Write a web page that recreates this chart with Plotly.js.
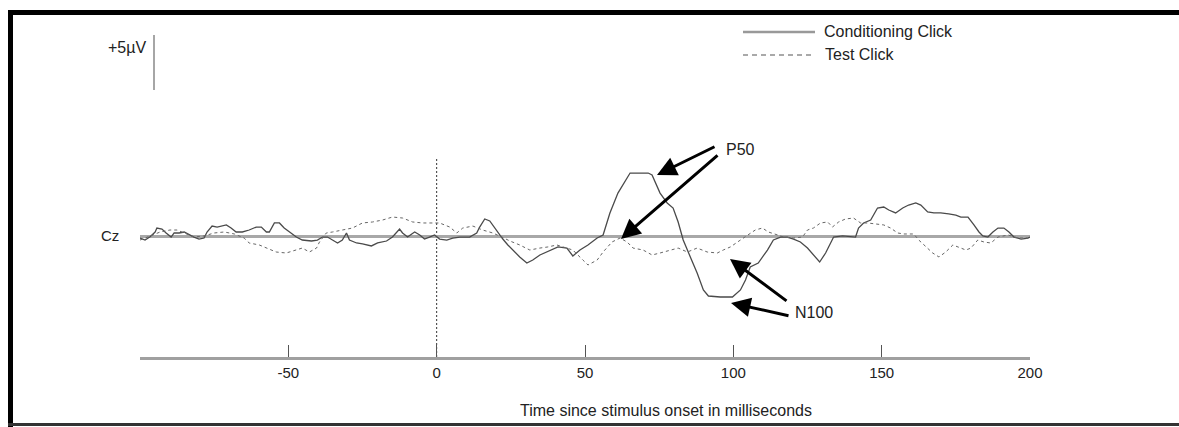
<!DOCTYPE html>
<html>
<head>
<meta charset="utf-8">
<script src="https://cdn.plot.ly/plotly-3.0.1.min.js"></script>
<style>
  html, body { margin: 0; padding: 0; background: #fff; }
  #chart { width: 1179px; height: 427px; }
</style>
</head>
<body>
<div id="chart"></div>
<script>
// Time (ms) and amplitude (µV)
const condTime = [-100,-98.3,-96.6,-94.9,-94.3,-92.6,-91.2,-89.5,-88.5,-86.8,-85.1,-83.4,-81.8,-80.1,-78.4,-77.4,-75.7,-74.0,-70.9,-69.3,-67.6,-65.5,-63.2,-60.8,-59.1,-57.4,-56.4,-54.7,-53.0,-51.4,-49.7,-47.3,-45.3,-42.2,-40.2,-38.5,-36.8,-35.1,-33.4,-31.8,-30.4,-29.4,-27.0,-25.0,-22.0,-19.9,-16.9,-14.9,-13.5,-12.5,-11.5,-9.8,-8.4,-7.4,-5.7,-4.1,-2.4,-0.7,1.0,3.4,5.4,7.8,11.1,13.5,14.5,16.2,17.9,19.6,21.3,22.3,24.0,25.7,28.0,30.4,32.4,34.8,37.2,39.2,40.9,43.9,45.9,48.3,51.0,54.1,56.1,58.4,61.1,65.2,68.6,71.3,72.6,75.3,77.7,79.7,81.4,83.1,85.5,87.8,89.9,91.6,95.6,99.7,102.4,104.1,105.7,108.4,111.5,113.5,115.9,118.2,120.3,122.6,125.0,127.0,129.1,131.1,132.8,133.8,136.8,139.5,141.2,142.2,143.9,146.3,148.6,150.7,152.4,154.7,157.1,159.1,161.5,163.2,165.5,167.6,169.9,172.6,175.0,176.7,179.1,181.1,182.8,184.1,185.8,187.5,189.2,191.2,192.9,194.6,197.0,199.3,200];
const condValue = [-0.14,-0.32,-0.02,0.41,0.77,0.68,0.32,-0.05,0.32,0.32,0.41,0.14,-0.05,-0.23,-0.14,0.41,0.95,0.86,1.05,0.77,0.41,0.41,0.59,0.86,0.86,0.41,0.41,1.23,1.23,0.77,0.41,-0.05,-0.32,-0.41,-0.32,-0.05,-0.05,-0.32,-0.59,-0.32,0.32,-0.32,-0.59,-0.68,-0.86,-0.59,-0.41,-0.05,0.41,0.68,0.32,-0.05,0.23,0.41,0.14,-0.23,-0.05,0.14,-0.23,-0.32,-0.14,-0.05,-0.05,0.32,0.86,1.59,1.41,0.77,0.14,-0.23,-0.77,-1.23,-1.86,-2.41,-2.14,-1.68,-1.41,-1.14,-0.95,-1.05,-1.77,-1.23,-0.77,-0.14,0.14,2.14,3.95,5.77,5.77,5.77,5.59,3.95,3.05,2.59,1.32,-0.32,-1.86,-3.32,-4.86,-5.41,-5.5,-5.5,-4.86,-3.95,-2.77,-2.41,-1.23,-0.32,-0.05,-0.05,-0.23,-0.5,-1.05,-1.68,-2.32,-1.5,-0.59,-0.05,0.05,-0.05,-0.05,0.77,1.23,1.5,2.59,2.68,2.41,2.14,2.59,2.86,3.05,2.86,2.23,2.14,2.14,2.05,1.95,1.77,1.77,1.05,0.41,0.05,-0.05,0.41,0.77,0.77,0.41,-0.05,-0.23,-0.14,-0.05];

const testTime = [-100,-96.6,-93.2,-89.9,-87.5,-85.1,-81.8,-78.4,-75.0,-71.6,-68.2,-64.9,-63.2,-59.8,-57.4,-54.1,-50.7,-47.3,-45.3,-42.9,-40.5,-39.5,-37.2,-35.1,-31.8,-28.4,-25.0,-21.6,-18.2,-14.9,-11.5,-8.1,-4.7,-1.4,1.0,4.4,6.8,8.8,12.2,15.5,18.9,22.0,24.7,28.0,31.4,34.8,37.5,40.5,42.6,45.9,49.3,51.0,54.1,56.1,59.1,61.8,64.2,66.2,69.6,72.6,75.3,78.7,81.4,84.5,87.8,91.2,94.6,96.6,99.0,102.4,105.1,107.4,109.8,111.8,114.9,116.9,120.3,123.3,125.0,127.0,129.4,131.8,133.4,135.5,137.8,140.5,142.9,145.3,148.0,150.7,153.0,155.4,157.4,160.8,162.5,164.9,167.2,169.3,171.6,174.0,176.0,178.4,180.1,182.4,184.5,186.8,189.2,192.6,195.9,199.3];
const testValue = [-0.32,0.05,0.41,0.59,0.59,0.32,-0.05,0.05,0.32,0.41,0.23,-0.14,-0.59,-0.77,-1.05,-1.41,-1.5,-1.23,-1.05,-1.41,-1.05,-0.5,0.32,0.41,0.59,0.77,1.23,1.32,1.5,1.77,1.68,1.32,1.23,1.23,1.23,0.86,0.32,0.77,0.95,0.59,0.32,-0.05,-0.41,-0.77,-1.23,-1.05,-0.95,-0.77,-0.95,-1.23,-2.14,-2.59,-2.14,-1.41,-0.5,-0.14,-0.5,-1.05,-1.23,-1.68,-1.5,-1.23,-1.05,-1.41,-1.05,-1.41,-1.5,-1.23,-0.95,-0.32,0.14,0.59,0.77,0.41,0.14,-0.05,-0.14,-0.05,0.59,0.77,1.23,1.32,0.86,1.32,1.59,1.68,1.23,1.23,1.14,1.05,0.77,0.32,0.23,0.23,-0.32,-0.95,-1.5,-1.86,-1.41,-0.77,-0.95,-1.23,-1.05,-0.32,-0.5,-0.59,-0.05,0.14,-0.14,-0.14];

const seriesNames = ["Conditioning Click", "Test Click"];
const tickValues = [-50, 0, 50, 100, 150, 200];
const tickLabels = ["-50", "0", "50", "100", "150", "200"];
const xTitle = "Time since stimulus onset in milliseconds";
const scaleLabel = "+5µV";
const channelLabel = "Cz";
const peakLabels = ["P50", "N100"];

const FONT = "'Liberation Sans Narrow', 'Arial Narrow', 'Liberation Sans', sans-serif";
const TXT = "#222";

const traces = [
  { x: condTime, y: condValue, type: "scatter", mode: "lines", name: seriesNames[0],
    line: { color: "#4a4a4a", width: 1.3 }, showlegend: false, hoverinfo: "skip" },
  { x: testTime, y: testValue, type: "scatter", mode: "lines", name: seriesNames[1],
    line: { color: "#666", width: 1, dash: "3px,3px" }, showlegend: false, hoverinfo: "skip" }
];

// paper coordinate helpers (plot area: x 140..1030 px, y 20..357 px)
const L = 140, R = 1030, T = 20, B = 357;
const px = v => (v - L) / (R - L);
const py = v => (B - v) / (B - T);

const shapes = [
  // baseline
  { type: "line", xref: "x", yref: "y", x0: -100, x1: 200, y0: 0, y1: 0,
    line: { color: "#a8a8a8", width: 3 }, layer: "below" },
  // stimulus onset dashed line
  { type: "line", xref: "x", yref: "paper", x0: 0, x1: 0, y0: 0, y1: py(157),
    line: { color: "#333", width: 1, dash: "2px,2px" }, layer: "below" },
  // scale bar
  { type: "line", xref: "paper", yref: "paper", x0: px(154), x1: px(154), y0: py(35), y1: py(90),
    line: { color: "#888", width: 1.5 } },
  // legend samples
  { type: "line", xref: "paper", yref: "paper", x0: px(743), x1: px(815), y0: py(32), y1: py(32),
    line: { color: "#999", width: 2.5 } },
  { type: "line", xref: "paper", yref: "paper", x0: px(743), x1: px(813), y0: py(55), y1: py(55),
    line: { color: "#555", width: 1.2, dash: "5px,4px" } },
  // frame
  { type: "line", xref: "paper", yref: "paper", x0: px(10.5), x1: px(10.5), y0: py(10), y1: py(427),
    line: { color: "#000", width: 5 } },
  { type: "line", xref: "paper", yref: "paper", x0: px(8), x1: px(1179), y0: py(12.5), y1: py(12.5),
    line: { color: "#000", width: 5 } },
  { type: "line", xref: "paper", yref: "paper", x0: px(8), x1: px(1179), y0: py(424.5), y1: py(424.5),
    line: { color: "#333", width: 3 } }
];

const txt = (text, x, y, size, anchor) => ({
  text, xref: "paper", yref: "paper", x: px(x), y: py(y), showarrow: false,
  xanchor: anchor || "left", yanchor: "middle", font: { family: FONT, size, color: TXT }
});
const arrow = (xh, yh, xt, yt) => ({
  text: "", xref: "paper", yref: "paper", x: px(xh), y: py(yh),
  axref: "pixel", ayref: "pixel", ax: xt - xh, ay: yt - yh,
  showarrow: true, arrowhead: 2, arrowsize: 1.3, arrowwidth: 3, arrowcolor: "#000"
});

const annotations = [
  txt(scaleLabel, 148, 47, 16, "right"),
  txt(channelLabel, 121, 236, 15, "right"),
  txt(seriesNames[0], 822, 31, 16),
  txt(seriesNames[1], 823, 54, 16),
  txt(peakLabels[0], 724, 149, 16),
  txt(peakLabels[1], 793, 312, 16),
  txt(xTitle, 518, 410, 16),
  arrow(657, 175, 716, 146),
  arrow(621, 239, 719, 154),
  arrow(730, 259, 788, 302),
  arrow(731, 303, 790, 316)
];

const layout = {
  width: 1179, height: 427,
  margin: { l: L, r: 1179 - R, t: T, b: 427 - B, pad: 0 },
  paper_bgcolor: "#fff", plot_bgcolor: "#fff",
  showlegend: false,
  xaxis: {
    range: [-100, 200], showgrid: false, zeroline: false,
    showline: true, linecolor: "#a0a0a0", linewidth: 3,
    ticks: "inside", ticklen: 12, tickwidth: 1, tickcolor: "#555",
    tickvals: tickValues, ticktext: tickLabels,
    tickfont: { family: FONT, size: 15, color: TXT },
    automargin: false, fixedrange: true
  },
  yaxis: {
    range: [(236.5 - B) / 11, (236.5 - T) / 11], visible: false, fixedrange: true
  },
  shapes, annotations
};

Plotly.newPlot("chart", traces, layout, { staticPlot: true });
</script>
</body>
</html>
